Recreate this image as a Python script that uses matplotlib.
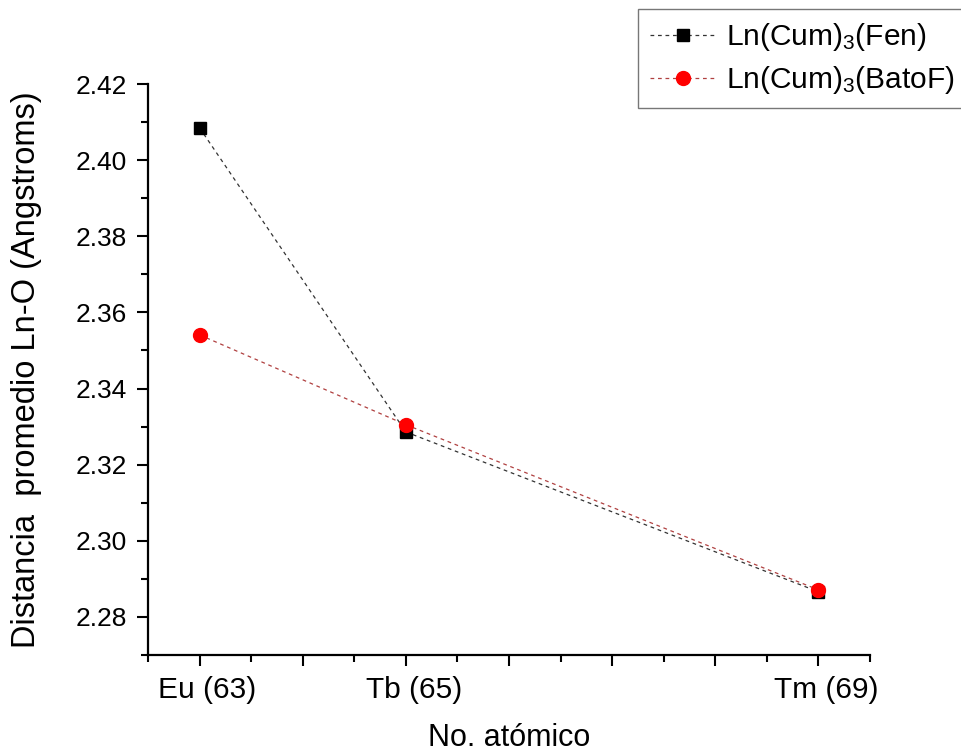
import matplotlib
matplotlib.use('Agg')
import matplotlib.pyplot as plt
import matplotlib.transforms as mtransforms
from matplotlib.ticker import MultipleLocator, FuncFormatter

plt.rcParams['font.family'] = ['Liberation Sans', 'DejaVu Sans']
plt.rcParams['mathtext.fontset'] = 'custom'
plt.rcParams['mathtext.rm'] = 'Liberation Sans'
plt.rcParams['mathtext.it'] = 'Liberation Sans'

# datos
numeroAtomico = [63, 65, 69]
etiquetas = {63: 'Eu (63)', 65: 'Tb (65)', 69: 'Tm (69)'}
distFen = [2.4085, 2.3286, 2.2866]
distBatoF = [2.3541, 2.3305, 2.2871]

fig = plt.figure(figsize=(9.62, 7.55), dpi=100)
ax = fig.add_axes([0.1538, 0.1325, 0.9044 - 0.1538, 0.8887 - 0.1325])

ax.plot(numeroAtomico, distFen, linestyle=(0, (3, 3)), linewidth=0.9, color='#333333',
        marker='s', markersize=9, markerfacecolor='black', markeredgecolor='black',
        label=r'Ln(Cum)$_\mathrm{3}$(Fen)')
ax.plot(numeroAtomico, distBatoF, linestyle=(0, (3, 3)), linewidth=0.9, color='#b04040',
        marker='o', markersize=10, markerfacecolor='red', markeredgecolor='red',
        label=r'Ln(Cum)$_\mathrm{3}$(BatoF)')

ax.set_xlim(62.5, 69.5)
ax.set_ylim(2.27, 2.42)

ax.xaxis.set_major_locator(MultipleLocator(1))
ax.xaxis.set_minor_locator(MultipleLocator(0.5))
ax.xaxis.set_major_formatter(FuncFormatter(lambda v, p: etiquetas.get(int(round(v)), '')))
ax.yaxis.set_major_locator(MultipleLocator(0.02))
ax.yaxis.set_minor_locator(MultipleLocator(0.01))
ax.yaxis.set_major_formatter(FuncFormatter(lambda v, p: '%.2f' % v))

for s in ['top', 'right']:
    ax.spines[s].set_visible(False)
for s in ['left', 'bottom']:
    ax.spines[s].set_linewidth(1.6)

ax.tick_params(which='major', direction='out', length=8, width=1.5, pad=7)
ax.tick_params(which='minor', direction='out', length=5, width=1.5)
ax.tick_params(axis='x', labelsize=21.5)
ax.tick_params(axis='y', labelsize=19)

# las etiquetas del eje x estan algo corridas a la derecha en el original
desplaz = mtransforms.ScaledTranslation(0.08, 0, fig.dpi_scale_trans)
for lbl in ax.get_xticklabels():
    lbl.set_transform(lbl.get_transform() + desplaz)

ax.set_xlabel('No. atómico', fontsize=22, labelpad=14)
ax.set_ylabel('Distancia  promedio Ln-O (Angstroms)', fontsize=23.5, labelpad=24)

leg = fig.legend(loc='upper left', bbox_to_anchor=(0.663, 0.988), fontsize=21.5,
                 frameon=True, fancybox=False, edgecolor='#555555', handlelength=2.2,
                 borderpad=0.4, labelspacing=0.38, handletextpad=0.35, borderaxespad=0)
leg.get_frame().set_linewidth(1.0)

fig.savefig('out.png', dpi=100, facecolor='white')
